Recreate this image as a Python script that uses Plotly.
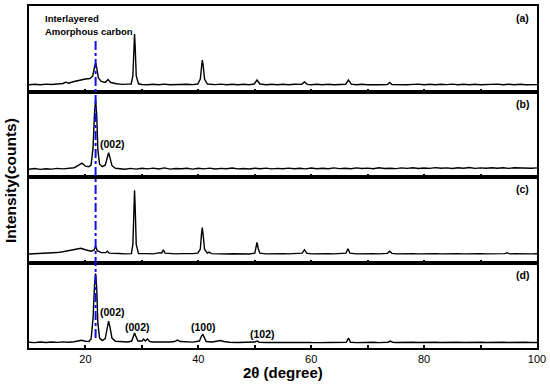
import plotly.graph_objects as go
from plotly.subplots import make_subplots

# ---- data (2theta in degrees, intensity in arbitrary units per panel) ----
xa = [10, 11, 12, 13, 14, 15, 16, 16.5, 17, 18, 19, 20, 20.8, 21.3, 21.6, 21.8, 22.0, 22.3, 22.8, 23.5,
      24.0, 24.5, 25.5, 26.5, 27.5, 28.1, 28.4, 28.6, 28.7, 28.8, 29.0, 29.4, 30, 31, 32, 33, 34, 35, 36,
      37, 38, 39, 39.9, 40.35, 40.6, 40.7, 40.85, 41.1, 41.6, 43, 44, 45, 46, 47, 48, 49, 49.9, 50.4, 50.9,
      52, 53, 54, 55, 56, 57, 58.3, 58.8, 59.3, 60, 61, 62, 63, 64, 65, 66.1, 66.6, 67.1, 68, 69, 70, 71, 72,
      73.5, 73.9, 74.3, 75, 76, 77, 78, 79, 80, 81, 82, 83, 84, 85, 86, 87, 88, 89, 90, 91, 92, 93, 94, 95,
      96, 97, 98, 99, 100]
ya = [0.3, 0.8, 0.2, 0.9, 0.5, 1.2, 1.5, 2.8, 1.8, 3.5, 5.0, 6.0, 6.5, 9, 18, 22, 17, 7, 3.5, 2.5,
      5.5, 2.5, 1.2, 0.6, 0.9, 1.0, 9, 40, 51, 40, 9, 1.2, 0.5, 0.2, 0.8, 0.3, 0.9, 0.2, 0.6,
      0.3, 0.8, 0.4, 1.0, 6, 21, 25, 20, 6, 1.0, 0.4, 0.9, 0.2, 0.7, 0.3, 0.8, 0.2, 1.0, 5, 1.0,
      0.3, 0.8, 0.2, 0.7, 0.3, 0.8, 0.6, 3, 0.6, 0.3, 0.7, 0.2, 0.8, 0.3, 0.6, 0.8, 5, 0.8, 0.3, 0.7, 0.2, 0.6, 0.3,
      0.5, 2.5, 0.5, 0.3, 0.7, 0.2, 0.6, 0.9, 0.3, 0.7, 0.2, 0.8, 0.4, 0.9, 0.2, 0.7, 0.3, 0.8, 0.2, 0.6, 0.4, 0.9, 0.3, 0.7,
      0.2, 0.8, 0.3, 0.6, 0.4]

xb = [10, 11, 12, 13, 14, 15, 16, 17, 18, 18.8, 19.4, 20, 20.6, 21.0, 21.35, 21.6, 21.8, 22.0, 22.2, 22.5,
      23.0, 23.5, 23.85, 24.1, 24.35, 24.7, 25.3, 26, 27, 28, 29, 30, 31, 32, 33, 34, 35, 36, 37, 38, 39, 40,
      41, 42, 43, 44, 45, 46, 47, 48, 49, 50, 51, 52, 53, 54, 55, 56, 57, 58, 59, 60, 61, 62, 63, 64, 65, 66,
      67, 68, 69, 70, 71, 72, 73, 74, 75, 76, 77, 78, 79, 80, 81, 82, 83, 84, 85, 86, 87, 88, 89, 90, 91, 92,
      93, 94, 95, 96, 97, 98, 99, 100]
yb = [0.5, 1.2, 0.3, 1.0, 0.6, 1.3, 0.8, 1.5, 2.0, 4.5, 6.5, 3.5, 3.0, 4.5, 22, 56, 70, 55, 20, 5.5,
      3.0, 4.5, 13, 17, 12, 4, 1.5, 1.0, 0.5, 1.3, 0.6, 1.5, 0.8, 1.6, 0.7, 1.8, 0.6, 1.2, 0.9, 1.5, 0.6, 1.4,
      0.8, 1.6, 0.7, 1.3, 1.0, 1.7, 0.8, 1.2, 0.7, 1.5, 1.0, 1.6, 0.8, 1.3, 0.9, 1.6, 1.0, 1.4, 0.8, 1.7, 1.0,
      1.4, 0.9, 1.8, 1.1, 1.5, 1.0, 1.8, 1.2, 1.6, 1.0, 1.9, 1.2, 1.5, 1.1, 1.8, 1.3, 2.0, 1.2, 1.7, 1.3, 2.1,
      1.4, 1.8, 1.2, 2.0, 1.5, 2.2, 1.3, 1.8, 1.4, 2.0, 1.5, 1.9, 1.3, 2.0, 1.6, 1.9, 1.4, 1.8]

xc = [10, 11, 12, 13, 14, 15, 16, 17, 17.5, 18.5, 19.2, 20, 21, 21.5, 21.8, 22.1, 22.8, 23.6, 23.9, 24.2,
      25, 26, 27, 28.15, 28.4, 28.6, 28.7, 28.8, 29.0, 29.4, 30, 31, 32, 33.2, 33.5, 33.8, 34.1, 35, 36, 37,
      38, 39, 39.9, 40.35, 40.55, 40.7, 40.85, 41.1, 41.6, 41.9, 42.3, 43, 44, 45, 46, 47, 48, 49, 50.0, 50.2,
      50.4, 50.6, 50.9, 52, 53, 54, 55, 56, 57, 58.4, 58.8, 59.2, 60, 61, 62, 63, 64, 65, 66.15, 66.5, 66.85,
      68, 69, 70, 71, 72, 73.5, 73.9, 74.3, 75, 76, 77, 78, 79, 80, 81, 82, 83, 84, 85, 86, 87, 88, 89, 90,
      91, 92, 93, 94.3, 94.7, 95.1, 96, 97, 98, 99, 100]
yc = [0.2, 0.5, 0.3, 0.6, 1.0, 1.6, 2.5, 3.5, 4.0, 5.5, 6.0, 4.5, 3.0, 4.0, 8, 3.5, 1.5, 1.5, 3.0, 1.0,
      0.5, 0.6, 0.3, 0.5, 10, 50, 65, 50, 10, 0.6, 0.3, 0.5, 0.3, 1.5, 1.0, 4.5, 1.0, 0.4, 0.3, 0.5,
      0.3, 0.5, 1.0, 5, 20, 27, 20, 5, 1.0, 2.0, 0.5, 0.3, 0.5, 0.2, 0.4, 0.3, 0.5, 0.2, 1.0, 6,
      12, 6, 1.0, 0.3, 0.5, 0.2, 0.4, 0.3, 0.5, 1.0, 4.5, 1.0, 0.3, 0.5, 0.2, 0.4, 0.3, 0.5, 1.0, 5.5, 1.0,
      0.3, 0.5, 0.2, 0.4, 0.3, 0.8, 3.0, 0.8, 0.3, 0.5, 0.2, 0.4, 0.3, 0.5, 0.2, 0.4, 0.3, 0.5, 0.2, 0.4, 0.3, 0.5, 0.2, 0.4,
      0.3, 0.5, 0.2, 0.5, 1.5, 0.3, 0.4, 0.2, 0.5, 0.3, 0.4]

xd = [10, 11, 12, 13, 14, 15, 16, 17, 18, 18.8, 19.3, 20, 20.6, 21.0, 21.35, 21.6, 21.8, 22.0, 22.2, 22.5,
      23.0, 23.5, 23.85, 24.1, 24.35, 24.7, 25.3, 26.5, 27.5, 28.2, 28.5, 28.7, 28.9, 29.3, 30.0, 30.3, 30.6,
      31.0, 31.4, 32, 33, 34, 35, 35.8, 36.3, 36.8, 38, 39, 40.2, 40.55, 40.8, 41.05, 41.4, 42.5, 43.3, 43.9,
      44.5, 45.5, 47, 48.5, 50.0, 50.4, 50.8, 52, 53, 54, 55, 56, 57, 58, 59, 60, 61, 62, 63, 64, 65, 66.2,
      66.6, 66.95, 68, 69, 70, 71, 72, 73.6, 74.0, 74.4, 75, 76, 77, 78, 79, 80, 81, 82, 83, 84, 85, 86, 87,
      88, 89, 90, 91, 92, 93, 94, 95, 96, 97, 98, 99, 100]
yd = [0.8, 0.4, 1.0, 0.6, 1.1, 0.7, 1.2, 0.8, 1.3, 2.0, 2.8, 1.8, 1.5, 4.0, 25, 58, 70, 55, 20, 5,
      2.5, 4.5, 17, 22, 16, 5, 1.8, 1.2, 1.0, 2.0, 8, 10, 7, 2.0, 2.0, 4.0, 2.0,
      4.0, 1.5, 1.0, 1.2, 0.8, 1.0, 1.5, 3.0, 1.5, 0.8, 0.9, 2.0, 7, 8.5, 6, 1.5, 1.0, 1.5, 2.5,
      1.5, 0.8, 0.6, 0.9, 1.0, 2.0, 0.8, 0.5, 0.8, 0.4, 0.7, 0.5, 0.8, 0.4, 0.7, 0.5, 0.8, 0.4, 0.6, 0.5, 0.7, 0.8,
      5, 0.8, 0.4, 0.7, 0.5, 0.8, 0.4, 0.8, 2.0, 0.8, 0.5, 0.7, 0.4, 0.8, 0.5, 0.7, 0.4, 0.8, 0.5, 0.7, 0.4, 0.8, 0.5,
      0.7, 0.4, 0.8, 0.5, 0.7, 0.4, 0.8, 0.5, 0.7, 0.4, 0.8, 0.5, 0.6]

panel_labels = ["(a)", "(b)", "(c)", "(d)"]
x_ticks = [20, 40, 60, 80, 100]
x_minor_ticks = [10, 30, 50, 70, 90]
ref_line_x = 21.8
peak_labels_b = ["(002)"]
peak_labels_d = ["(002)", "(002)", "(100)", "(102)"]

# ---- layout geometry (pixels) ----
W, H = 550, 385
ML, MR, MT, MB = 29, 13, 4, 37
PW, PH = W - ML - MR, H - MT - MB


def px(xp):
    return (xp - ML) / PW


def py(yp):
    return (H - MB - yp) / PH


FONT = "Liberation Sans, Arial, sans-serif"

fig = make_subplots(rows=4, cols=1, shared_xaxes=True, vertical_spacing=0)
series = [(xa, ya), (xb, yb), (xc, yc), (xd, yd)]
yranges = [[-6.5, 79], [-7.3, 78.2], [-8.5, 78.5], [-5, 81]]
for i, (xs, ys) in enumerate(series):
    fig.add_trace(go.Scatter(x=xs, y=ys, mode="lines",
                             line=dict(color="black", width=1.4), showlegend=False,
                             hoverinfo="skip"), row=i + 1, col=1)
    fig.update_yaxes(range=yranges[i], showticklabels=False, ticks="", showgrid=False,
                     zeroline=False, showline=True, linecolor="black", linewidth=2,
                     mirror=True, row=i + 1, col=1)
    fig.update_xaxes(range=[10, 100], showgrid=False, zeroline=False, showline=True,
                     linecolor="black", linewidth=2, mirror=True,
                     ticks="inside", ticklen=3, tickwidth=1.5, tickcolor="black",
                     tickvals=x_ticks,
                     minor=dict(ticks="inside", ticklen=3, tickwidth=1.5, tickcolor="black",
                                tickvals=x_minor_ticks),
                     row=i + 1, col=1)
    fig.add_annotation(text="<b>%s</b>" % panel_labels[i], xref="x domain", yref="y domain",
                       x=0.988, y=0.95, xanchor="right", yanchor="top", showarrow=False,
                       font=dict(size=10.5, color="black", family=FONT),
                       row=i + 1, col=1)

fig.update_xaxes(showticklabels=True, tickfont=dict(size=11, color="black", family=FONT),
                 tickprefix="<b>", ticksuffix="</b>", row=4, col=1)

# vertical reference line
fig.add_shape(type="line", xref="x4", yref="paper", x0=ref_line_x, x1=ref_line_x,
              y0=py(338), y1=py(38), line=dict(color="#1010e0", width=2, dash="dashdot"))

# text annotations
ann_font = dict(size=9.5, color="black", family=FONT)
fig.add_annotation(text="<b>Interlayered</b>", xref="paper", yref="paper", x=px(43), y=py(17),
                   xanchor="left", yanchor="middle", showarrow=False, font=ann_font)
fig.add_annotation(text="<b>Amorphous carbon</b>", xref="paper", yref="paper", x=px(43), y=py(29.5),
                   xanchor="left", yanchor="middle", showarrow=False, font=ann_font)

lab_font = dict(size=10.5, color="black", family=FONT)
fig.add_annotation(text="<b>%s</b>" % peak_labels_b[0], xref="paper", yref="paper", x=px(112), y=py(143),
                   xanchor="center", yanchor="middle", showarrow=False, font=lab_font)
d_positions = [(112, 311.5), (137.5, 327), (203.5, 327), (262, 334)]
for t, (xp, yp) in zip(peak_labels_d, d_positions):
    fig.add_annotation(text="<b>%s</b>" % t, xref="paper", yref="paper", x=px(xp), y=py(yp),
                       xanchor="center", yanchor="middle", showarrow=False, font=lab_font)

# axis titles
fig.add_annotation(text="<b>2θ (degree)</b>", xref="paper", yref="paper", x=px(283), y=py(373),
                   xanchor="center", yanchor="middle", showarrow=False,
                   font=dict(size=15, color="black", family=FONT))
fig.add_annotation(text="<b>Intensity(counts)</b>", xref="paper", yref="paper", x=px(11), y=py(180),
                   xanchor="center", yanchor="middle", textangle=-90, showarrow=False,
                   font=dict(size=15.5, color="black", family=FONT))

fig.update_layout(width=W, height=H, margin=dict(l=ML, r=MR, t=MT, b=MB),
                  plot_bgcolor="white", paper_bgcolor="white")

fig.write_html("out.html", config={"displayModeBar": False},
               post_script="document.body.style.margin='0px';")
